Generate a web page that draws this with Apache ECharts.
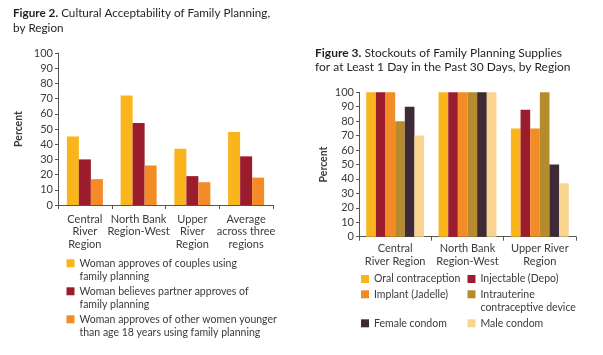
<!DOCTYPE html>
<html>
<head>
<meta charset="utf-8">
<script src="https://cdn.jsdelivr.net/npm/echarts@6/dist/echarts.min.js"></script>
<style>html,body{margin:0;padding:0;background:#fff}#c{width:603px;height:355px}</style>
</head>
<body>
<div id="c"></div>
<script>
// ---- Figure 2 data ----
var fig2Categories = ['Central\nRiver\nRegion', 'North Bank\nRegion-West', 'Upper\nRiver\nRegion', 'Average\nacross three\nregions'];
var fig2Names = ['Woman approves of couples using\nfamily planning', 'Woman believes partner approves of\nfamily planning', 'Woman approves of other women younger\nthan age 18 years using family planning'];
var fig2Couples = [45, 72, 37, 48];
var fig2Partner = [30, 54, 19, 32];
var fig2Younger = [17, 26, 15, 18];

// ---- Figure 3 data ----
var fig3Categories = ['Central\nRiver Region', 'North Bank\nRegion-West', 'Upper River\nRegion'];
var fig3Names = ['Oral contraception', 'Injectable (Depo)', 'Implant (Jadelle)', 'Intrauterine\ncontraceptive device', 'Female condom', 'Male condom'];
var fig3Oral = [100, 100, 75];
var fig3Injectable = [100, 100, 88];
var fig3Implant = [100, 100, 75];
var fig3IUD = [80, 100, 100];
var fig3Female = [90, 100, 50];
var fig3Male = [70, 100, 37];

var yTicks = [0, 10, 20, 30, 40, 50, 60, 70, 80, 90, 100];

var FONT = 'Lato';
var TXT = '#3b3b3b';
var AX = '#555';
var C = {yellow: '#F9B51B', red: '#9B1D2D', orange: '#F38B27', olive: '#B68B2E', dark: '#3E2B35', pale: '#F9D491'};

var chart = echarts.init(document.getElementById('c'), null, {renderer: 'canvas'});

function yAxis(idx, gap) {
  return {
    type: 'value', gridIndex: idx, min: yTicks[0], max: yTicks[yTicks.length - 1], interval: 10,
    name: 'Percent', nameLocation: 'middle', nameGap: gap,
    nameTextStyle: {fontFamily: FONT, fontWeight: 'bold', fontSize: 10.5, color: TXT},
    axisLine: {show: true, lineStyle: {color: AX, width: 1}},
    axisTick: {show: true, length: 3, lineStyle: {color: AX}},
    axisLabel: {fontFamily: FONT, fontSize: 11, color: TXT, margin: 5},
    splitLine: {show: false}
  };
}
function xAxis(idx, cats, margin) {
  return {
    type: 'category', gridIndex: idx, data: cats,
    axisLine: {lineStyle: {color: AX, width: 1}},
    axisTick: {show: true, length: 4, alignWithLabel: false, lineStyle: {color: AX}},
    axisLabel: {fontFamily: FONT, fontSize: 11, color: TXT, margin: margin, lineHeight: 12.5, interval: 0}
  };
}
function bar(name, data, color, ax, gap) {
  return {type: 'bar', name: name, data: data, xAxisIndex: ax, yAxisIndex: ax,
    itemStyle: {color: color}, barGap: '0%', barCategoryGap: gap, silent: true, animation: false};
}
var L = 13.8;
function leg(name, left, iconCenter, multi, fs) {
  return {
    data: [name], left: left, top: multi ? iconCenter - 1.5 * L : iconCenter - L / 2,
    padding: 0, itemWidth: 8, itemHeight: 8, icon: 'rect',
    selectedMode: false,
    formatter: multi ? function (n) { return ' \n' + n; } : '{name}',
    textStyle: {fontFamily: FONT, fontSize: fs, color: TXT, lineHeight: L}
  };
}
function titleStyle(fs) {
  return {fontFamily: FONT, fontSize: fs, fontWeight: 'normal', color: '#231f20', lineHeight: 14.5,
    rich: {b: {fontFamily: FONT, fontSize: fs, fontWeight: 'bold', color: '#231f20', lineHeight: 14.5},
           n: {fontFamily: FONT, fontSize: fs, color: '#231f20', lineHeight: 14.5}}};
}

var option = {
  animation: false,
  title: [
    {left: 13, top: 6, padding: 0, textStyle: titleStyle(11.7),
     text: '{b|Figure 2.} {n|Cultural Acceptability of Family Planning,}\n{n|by Region}'},
    {left: 315, top: 45.5, padding: 0, textStyle: titleStyle(12),
     text: '{b|Figure 3.} {n|Stockouts of Family Planning Supplies}\n{n|for at Least 1 Day in the Past 30 Days, by Region}'}
  ],
  grid: [
    {left: 58, top: 53, width: 215, height: 152},
    {left: 359, top: 92.3, width: 217, height: 144.4}
  ],
  xAxis: [xAxis(0, fig2Categories, 8), xAxis(1, fig3Categories, 6)],
  yAxis: [yAxis(0, 34), yAxis(1, 30)],
  legend: [
    leg(fig2Names[0], 66.5, 263.3, true, 10.5),
    leg(fig2Names[1], 66.5, 291.3, true, 10.5),
    leg(fig2Names[2], 66.5, 319.3, true, 10.5),
    leg(fig3Names[0], 361, 279, false, 10.5),
    leg(fig3Names[1], 467.5, 279, false, 10.5),
    leg(fig3Names[2], 361, 294.3, false, 10.5),
    leg(fig3Names[3], 467.5, 294.3, true, 10.5),
    leg(fig3Names[4], 361, 323.3, false, 10.5),
    leg(fig3Names[5], 467.5, 323.3, false, 10.5)
  ],
  series: [
    bar(fig2Names[0], fig2Couples, C.yellow, 0, '33%'),
    bar(fig2Names[1], fig2Partner, C.red, 0, '33%'),
    bar(fig2Names[2], fig2Younger, C.orange, 0, '33%'),
    bar(fig3Names[0], fig3Oral, C.yellow, 1, '20%'),
    bar(fig3Names[1], fig3Injectable, C.red, 1, '20%'),
    bar(fig3Names[2], fig3Implant, C.orange, 1, '20%'),
    bar(fig3Names[3], fig3IUD, C.olive, 1, '20%'),
    bar(fig3Names[4], fig3Female, C.dark, 1, '20%'),
    bar(fig3Names[5], fig3Male, C.pale, 1, '20%')
  ]
};
chart.setOption(option);
</script>
</body>
</html>
